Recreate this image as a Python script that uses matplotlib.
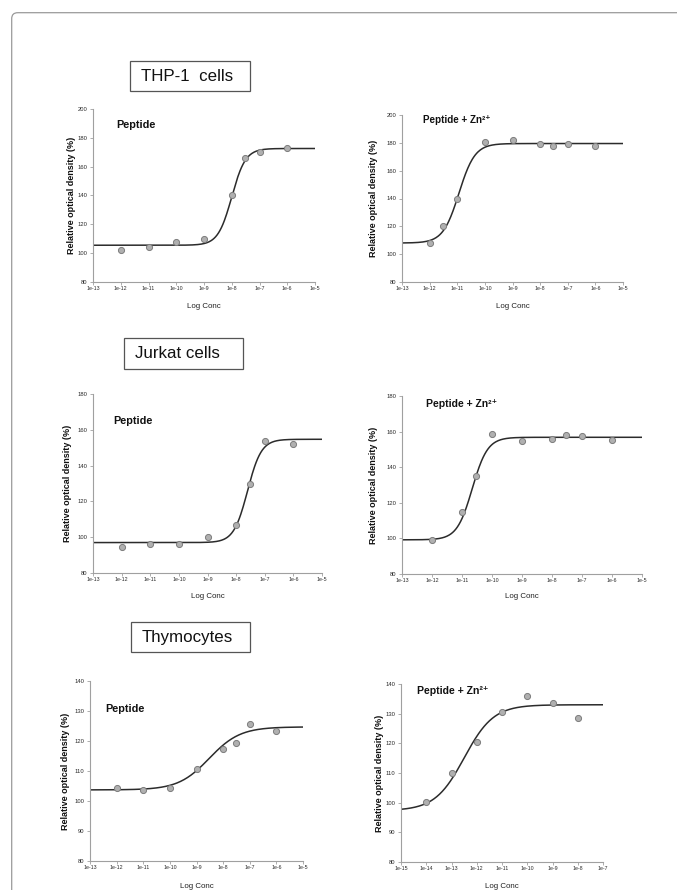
#Dose-response curves (relative optical density vs log concentration)
#for THP-1, Jurkat cells and thymocytes, peptide alone and with Zn2+

import numpy as np
import matplotlib.pyplot as plt
from matplotlib.patches import FancyBboxPatch, Rectangle
from matplotlib.transforms import Affine2D

plt.rcParams['font.family'] = ['Liberation Sans', 'DejaVu Sans']

W, H = 677, 890

# ---- values ----
cell_titles = ['THP-1  cells', 'Jurkat cells', 'Thymocytes']
treatments = ['Peptide', 'Peptide + Zn²⁺']
ylabel = 'Relative optical density (%)'
xlabel = 'Log Conc'

# THP-1, peptide
thp_pep_conc = [1e-12, 1e-11, 1e-10, 1e-9, 1e-8, 3e-8, 1e-7, 1e-6]
thp_pep_od = [102, 104, 108, 110, 140, 166, 170, 173]
thp_pep_fit = [105.5, 172.6, 1.0e-8, 1.75]      # bottom, top, EC50, hill

# THP-1, peptide + Zn
thp_zn_conc = [1e-12, 3e-12, 1e-11, 1e-10, 1e-9, 1e-8, 3e-8, 1e-7, 1e-6]
thp_zn_od = [108, 120, 140, 180.5, 182, 179, 178, 179.5, 177.5]
thp_zn_fit = [108, 179.5, 1.15e-11, 1.5]

# Jurkat, peptide
jur_pep_conc = [1e-12, 1e-11, 1e-10, 1e-9, 1e-8, 3e-8, 1e-7, 1e-6]
jur_pep_od = [94.3, 96.4, 96.4, 100, 107, 130, 154, 152.2]
jur_pep_fit = [97, 154.7, 2.5e-8, 1.8]

# Jurkat, peptide + Zn
jur_zn_conc = [1e-12, 1e-11, 3e-11, 1e-10, 1e-9, 1e-8, 3e-8, 1e-7, 1e-6]
jur_zn_od = [98.9, 114.6, 135.3, 158.9, 154.6, 156, 158.2, 157.3, 155.2]
jur_zn_fit = [99.2, 156.8, 2.2e-11, 1.7]

# Thymocytes, peptide
thy_pep_conc = [1e-12, 1e-11, 1e-10, 1e-9, 1e-8, 3e-8, 1e-7, 1e-6]
thy_pep_od = [104.4, 103.8, 104.3, 110.7, 117.3, 119.2, 125.7, 123.2]
thy_pep_fit = [103.7, 124.7, 3.0e-9, 0.75]

# Thymocytes, peptide + Zn
thy_zn_conc = [1e-14, 1e-13, 1e-12, 1e-11, 1e-10, 1e-9, 1e-8]
thy_zn_od = [100.2, 110.1, 120.4, 130.6, 135.8, 133.5, 128.4]
thy_zn_fit = [97.3, 133, 3.2e-13, 0.75]

# x axis decades and y ranges of each row
x_exp_a = list(range(-13, -4))
x_exp_b = list(range(-15, -6))
y_thp = [80, 100, 120, 140, 160, 180, 200]
y_jur = [80, 100, 120, 140, 160, 180]
y_thy = [80, 90, 100, 110, 120, 130, 140]


def logistic4(conc, fit):
    '''four parameter logistic curve used for the fitted line'''
    bottom, top, ec50, hill = fit
    return bottom + (top - bottom) / (1 + (ec50 / conc) ** hill)


fig = plt.figure(figsize=(W / 100, H / 100), dpi=100)
#transform in pixels from the top left corner
px = Affine2D().scale(1 / W, -1 / H).translate(0, 1) + fig.transFigure

#rounded frame round the whole figure (open to the right and bottom)
fig.add_artist(FancyBboxPatch((11.7, 12.7), 900, 1000,
                              boxstyle='round,pad=0,rounding_size=6',
                              transform=px, fill=False, ec='#9a9a9a', lw=0.9))

#cell type boxes: (left, top, right, bottom) in pixels
title_boxes = [(130, 61, 250, 91), (124, 338, 243, 369), (131, 622, 250, 652)]
for (x0, y0, x1, y1), name in zip(title_boxes, cell_titles):
    fig.add_artist(Rectangle((x0, y0), x1 - x0, y1 - y0, transform=px,
                             fill=False, ec='#555555', lw=0.9))
    fig.text(x0 + 11, (y0 + y1) / 2 + 0.5, name, transform=px, fontsize=12.2,
             ha='left', va='center', color='#111111')

panels = [
    # data, axes box (px), x decades, y ticks, label pos, ylabel x, xlabel y, label size
    (thp_pep_conc, thp_pep_od, thp_pep_fit, (93, 109, 315, 282), x_exp_a, y_thp,
     treatments[0], (116, 125), 71, 306, 7.8),
    (thp_zn_conc, thp_zn_od, thp_zn_fit, (402, 115, 623, 282), x_exp_a, y_thp,
     treatments[1], (423, 120), 373, 306, 7.1),
    (jur_pep_conc, jur_pep_od, jur_pep_fit, (93, 394, 322, 573), x_exp_a, y_jur,
     treatments[0], (113, 421), 68, 596, 7.8),
    (jur_zn_conc, jur_zn_od, jur_zn_fit, (402, 396, 642, 574), x_exp_a, y_jur,
     treatments[1], (426, 404), 373, 597, 7.5),
    (thy_pep_conc, thy_pep_od, thy_pep_fit, (90, 681, 303, 861), x_exp_a, y_thy,
     treatments[0], (105, 709), 65, 886, 7.8),
    (thy_zn_conc, thy_zn_od, thy_zn_fit, (401, 684, 603, 862), x_exp_b, y_thy,
     treatments[1], (417, 691), 379, 886, 7.6),
]

for conc, od, fit, box, xexp, yticks, label, lpos, ylx, xly, lsize in panels:
    x0, y0, x1, y1 = box
    ax = fig.add_axes([x0 / W, 1 - y1 / H, (x1 - x0) / W, (y1 - y0) / H])

    #fitted curve across the whole axis, then the measured points
    xs = np.logspace(xexp[0], xexp[-1], 300)
    ax.plot(xs, logistic4(xs, fit), color='#2b2b2b', lw=1.1, zorder=2)
    ax.plot(conc, od, 'o', ms=4.4, mfc='#b0b0b0', mec='#7c7c7c', mew=0.7,
            zorder=3, clip_on=False)

    ax.set_xscale('log')
    ax.set_xlim(10.0 ** xexp[0], 10.0 ** xexp[-1])
    ax.set_ylim(yticks[0], yticks[-1])
    ax.set_xticks([10.0 ** e for e in xexp])
    ax.set_xticklabels(['1e%d' % e for e in xexp])
    ax.minorticks_off()
    ax.set_yticks(yticks)

    for s in ['top', 'right']:
        ax.spines[s].set_visible(False)
    for s in ['left', 'bottom']:
        ax.spines[s].set_color('#a0a0a0')
        ax.spines[s].set_linewidth(0.8)
    ax.tick_params(axis='x', length=2.2, width=0.6, color='#a0a0a0',
                   labelsize=3.8, labelcolor='#2a2a2a', pad=1)
    ax.tick_params(axis='y', length=2.2, width=0.6, color='#a0a0a0',
                   labelsize=4.2, labelcolor='#2a2a2a', pad=2)

    ax.set_ylabel(ylabel, fontsize=6.5, fontweight='bold', color='#111111')
    ax.yaxis.set_label_coords(ylx / W, 1 - ((y0 + y1) / 2) / H, transform=fig.transFigure)
    ax.yaxis.label.set_va('center')
    ax.set_xlabel(xlabel, fontsize=5.7, color='#222222')
    ax.xaxis.set_label_coords((x0 + x1) / 2 / W, 1 - xly / H, transform=fig.transFigure)
    ax.xaxis.label.set_va('center')

    fig.text(lpos[0], lpos[1], label, transform=px, fontsize=lsize,
             fontweight='bold', ha='left', va='center', color='#111111')

fig.savefig('out.png', dpi=100)
